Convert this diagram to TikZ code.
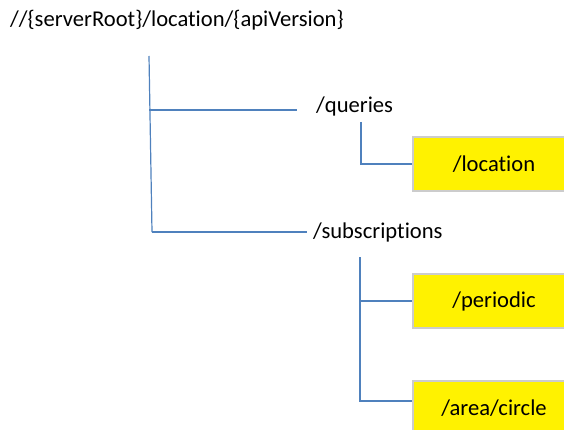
\documentclass[tikz,border=0pt]{standalone}
\usepackage{fontspec}
\setmainfont{Carlito}[Ligatures=NoCommon]
\definecolor{treeblue}{RGB}{79,129,189}

\begin{document}
\begin{tikzpicture}[x=1pt,y=-1pt,every node/.style={font=\fontsize{22.6}{26}\selectfont},
  branch/.style={draw=treeblue,line width=1.2pt},
  leaf/.style={fill=yellow,draw=black!20,line width=1.5pt,minimum width=162pt,minimum height=54pt}]
  \useasboundingbox (0,0) rectangle (564,430);
  \clip (0,0) rectangle (564,430);
  % path labels
  \node[anchor=base west,inner sep=0pt] (root) at (10,27) {//\{serverRoot\}/location/\{apiVersion\}};
  \node[anchor=base west,inner sep=0pt] (queries) at (316,113) {/queries};
  \node[anchor=base west,inner sep=0pt] (subs) at (313,238) {/subscriptions};
  % yellow resources
  \node[leaf] (location) at (494,164) {/location};
  \node[leaf] (periodic) at (494,301) {/periodic};
  \node[leaf] (circle) at (494,408) {/area/circle};
  % tree lines
  \coordinate (trunk) at (149,56);
  \coordinate (qfork) at (149,110);
  \coordinate (sfork) at (152,232);
  \coordinate (qtop) at (361,122);
  \coordinate (stop) at (360,257);
  \draw[branch] (trunk) -- (sfork);
  \draw[branch,shorten >=19pt] (qfork) -- (qfork -| queries.west);
  \draw[branch,shorten >=6pt] (sfork) -- (sfork -| subs.west);
  \draw[branch] (qtop) |- (location.west);
  \draw[branch] (stop) |- ([yshift=7pt]circle.west);
  \draw[branch] (stop |- periodic.west) -- (periodic.west);
\end{tikzpicture}
\end{document}
